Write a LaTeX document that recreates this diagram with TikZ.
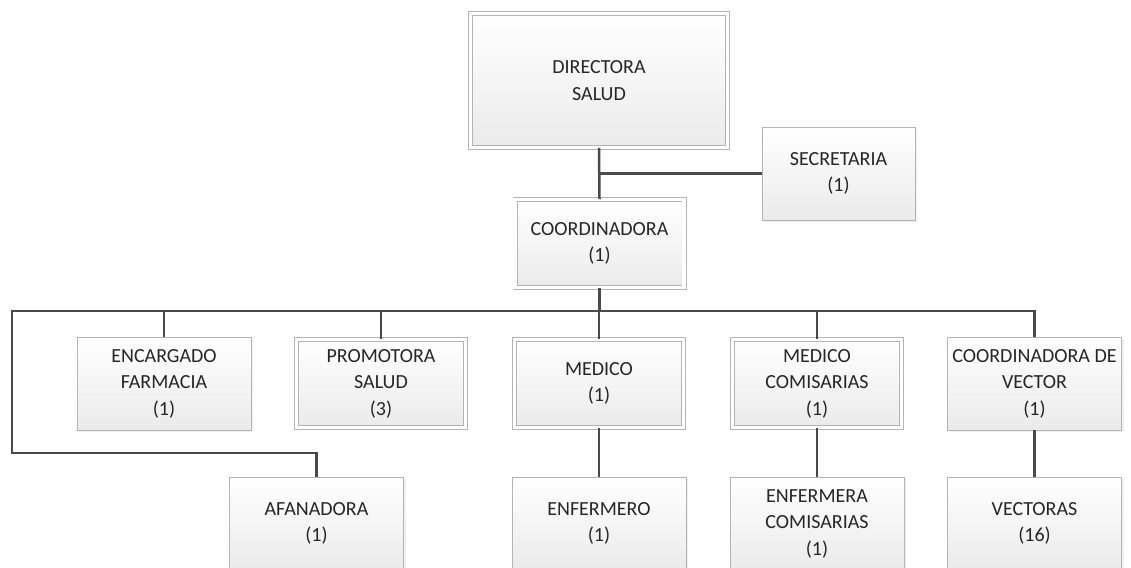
\documentclass[tikz,border=0pt]{standalone}
\usepackage{fontspec}
\setmainfont{Carlito}
\usepackage{tikz}
\usetikzlibrary{shadows}

\definecolor{linegray}{HTML}{4A4A4A}
\definecolor{boxgray}{HTML}{B4B4B4}
\definecolor{textgray}{HTML}{262626}

\tikzset{
  box/.style={draw=boxgray, line width=0.9pt, top color=white, bottom color=black!8,
    minimum width=174pt, minimum height=93pt, align=center, inner sep=2pt,
    text=textgray, font=\fontsize{20}{26.5}\selectfont,
    drop shadow={shadow xshift=2pt, shadow yshift=-2pt, opacity=0.12}},
  dbox/.style={box, double=white, double distance=3.2pt,
    minimum width=169pt, minimum height=88pt},
  link/.style={draw=linegray, line width=2.5pt}
}

\begin{document}
\begin{tikzpicture}[x=1pt,y=-1pt]
\clip (0,0) rectangle (1131,567);

% top
\node[dbox, minimum width=257pt, minimum height=134pt] (dir) at (599,80.5) {DIRECTORA\\SALUD};
\node[box, minimum width=153pt] (sec) at (838.5,173.5) {SECRETARIA\\(1)};
\node[dbox] (coord) at (599.5,243.5) {COORDINADORA\\(1)};

% second level
\node[box] (enc) at (164,383.5) {ENCARGADO\\FARMACIA\\(1)};
\node[dbox] (prom) at (381,383.5) {PROMOTORA\\SALUD\\(3)};
\node[dbox] (med) at (599,383.5) {MEDICO\\(1)};
\node[dbox] (medc) at (817,383.5) {MEDICO\\COMISARIAS\\(1)};
\node[box] (cvec) at (1034.5,383.5) {COORDINADORA DE\\VECTOR\\(1)};

% third level
\node[box] (afa) at (316.5,523.5) {AFANADORA\\(1)};
\node[box] (enf) at (599,523.5) {ENFERMERO\\(1)};
\node[box] (enfc) at (817,523.5) {ENFERMERA\\COMISARIAS\\(1)};
\node[box] (vect) at (1034.5,523.5) {VECTORAS\\(16)};

\coordinate (bend) at (12,453);

% links
\draw[link] (dir.south) -- (coord.north);
\draw[link] (sec.west) -| (dir.south);
\foreach \n in {enc,prom,med,medc,cvec}
  \draw[link] (coord.south) -- ++(0,23) -| (\n.north);
\draw[link] (coord.south) -- ++(0,23) -| (bend) -| (afa.north);
\draw[link] (med.south) -- (enf.north);
\draw[link] (medc.south) -- (enfc.north);
\draw[link] (cvec.south) -- (vect.north);
\end{tikzpicture}
\end{document}
